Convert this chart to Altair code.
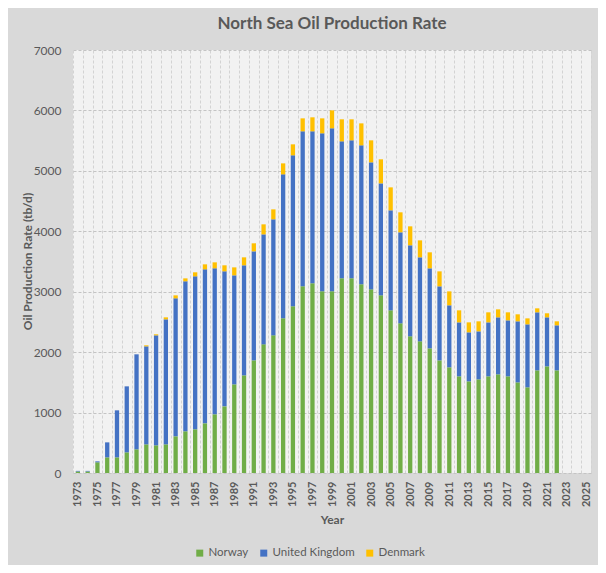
import altair as alt
import pandas as pd

years = list(range(1973, 2023))
all_years = list(range(1973, 2026))
countries = ["Norway", "United Kingdom", "Denmark"]
colors = ["#70ad47", "#4472c4", "#ffc000"]

norway = [25, 25, 177, 259, 259, 342, 392, 474, 458, 474,
          607, 690, 723, 822, 971, 1103, 1467, 1616, 1864, 2129,
          2278, 2559, 2758, 3089, 3139, 3006, 3006, 3221, 3221, 3122,
          3039, 2940, 2692, 2477, 2262, 2179, 2063, 1864, 1749, 1600,
          1517, 1550, 1600, 1633, 1600, 1500, 1418, 1699, 1765, 1699]
uk = [10, 10, 16, 248, 778, 1092, 1572, 1622, 1820, 2069,
      2283, 2482, 2531, 2548, 2416, 2234, 1804, 1821, 1804, 1820,
      1920, 2383, 2499, 2565, 2515, 2615, 2698, 2267, 2284, 2300,
      2102, 1853, 1655, 1506, 1506, 1390, 1324, 1225, 1026, 893,
      811, 794, 893, 943, 926, 1010, 1042, 960, 811, 745]
denmark = [0, 0, 0, 0, 0, 0, 0, 17, 17, 33,
           50, 49, 67, 83, 99, 100, 132, 132, 133, 166,
           165, 182, 182, 215, 232, 248, 297, 365, 348, 364,
           364, 398, 380, 331, 314, 281, 265, 248, 231, 199,
           165, 166, 166, 132, 133, 116, 99, 66, 67, 66]

rows = []
for series, vals in zip(countries, [norway, uk, denmark]):
    for y, v in zip(years, vals):
        rows.append({"Year": y, "Country": series, "Value": v, "ord": countries.index(series)})
df = pd.DataFrame(rows)

FONT = "Lato"
GRAY = "#595959"

chart = alt.Chart(df).mark_bar(width={"band": 0.44}).encode(
    x=alt.X("Year:O", scale=alt.Scale(domain=all_years, paddingInner=0, paddingOuter=0),
            axis=alt.Axis(title="Year", labelAngle=270, labelExpr="datum.value % 2 == 1 ? datum.label : ''",
                          labelOverlap=False, labelFontWeight="bold", labelFontSize=11, labelColor=GRAY,
                          labelPadding=8, ticks=False, domain=False, grid=True, tickBand="extent",
                          gridColor="#d3d3d3", gridDash=[3, 2], titleFontSize=12, titleFontWeight="bold",
                          titleColor=GRAY, titleY=46, titleBaseline="middle")),
    y=alt.Y("Value:Q", stack="zero", scale=alt.Scale(domain=[0, 7000]),
            axis=alt.Axis(title="Oil Production Rate (tb/d)", values=list(range(0, 7001, 1000)), format="d",
                          labelFontSize=12, labelColor=GRAY, labelPadding=12, ticks=False, domain=False,
                          gridColor="#c4c4c4", gridDash=[3, 2], titleFontSize=12, titleFontWeight="bold",
                          titleColor=GRAY, titleX=-46, titleY=211, titleAngle=270, titleBaseline="middle",
                          titleAlign="center")),
    color=alt.Color("Country:N", scale=alt.Scale(domain=countries, range=colors), title=None,
                    legend=alt.Legend(orient="none", legendX=121, legendY=497, direction="horizontal",
                                      symbolType="square", symbolSize=49, symbolStrokeWidth=0,
                                      labelFontSize=11.5, labelColor=GRAY, labelFont=FONT,
                                      columnPadding=9, labelOffset=3)),
    order=alt.Order("ord:Q"),
).properties(
    width=518, height=423,
    padding={"left": 65, "top": 42, "right": 7, "bottom": 92},
    autosize=alt.AutoSizeParams(type="none"),
    background="#d9d9d9",
    title=alt.TitleParams("North Sea Oil Production Rate", fontSize=17, fontWeight="bold", color=GRAY,
                          font=FONT, offset=11, anchor="middle", frame="group"),
).configure_view(fill="#f2f2f2", stroke=None).configure_axis(labelFont=FONT, titleFont=FONT)

chart.save("out.html", embed_options={"renderer": "svg", "actions": False})
